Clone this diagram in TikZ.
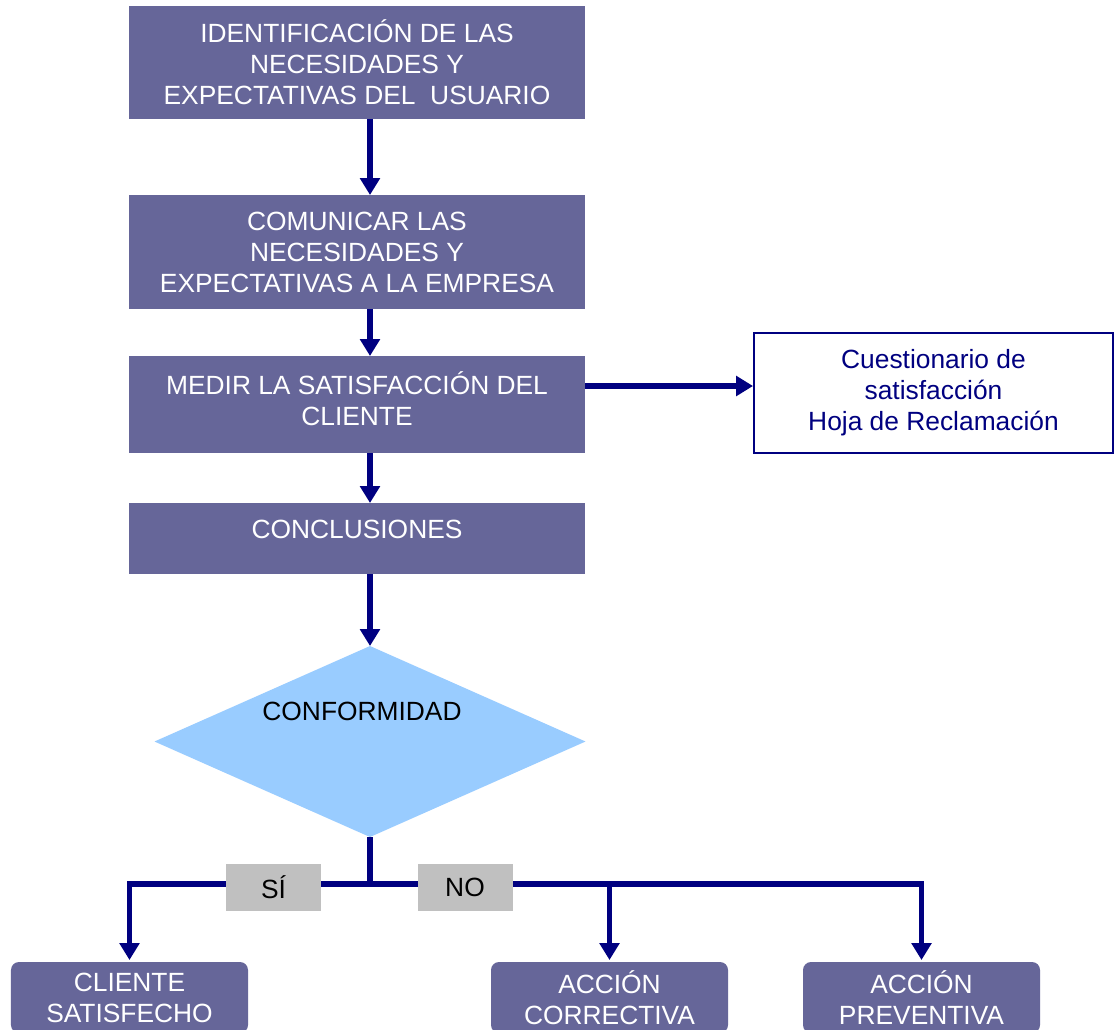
\documentclass[tikz,border=0pt]{standalone}
\usepackage{fontspec}
\setmainfont{Liberation Sans}
\usepackage{tikz}
\usetikzlibrary{shapes.geometric, arrows, arrows.meta, positioning, calc}
\definecolor{boxfill}{HTML}{666699}
\definecolor{linecol}{HTML}{000080}
\definecolor{decfill}{HTML}{99CCFF}
\definecolor{tagfill}{HTML}{C0C0C0}
\tikzstyle{process} = [rectangle, minimum width=9.12cm, text centered, align=center, fill=boxfill, text=white, outer sep=0pt, font=\fontsize{15}{17.6}\selectfont]
\tikzstyle{result} = [rectangle, rounded corners=0.16cm, minimum width=4.74cm, minimum height=1.42cm, align=center, fill=boxfill, text=white, outer sep=0pt, font=\fontsize{15}{17.6}\selectfont]
\tikzstyle{decision} = [diamond, minimum width=8.62cm, minimum height=3.82cm, inner sep=0pt, fill=decfill, outer sep=0pt]
\tikzstyle{doc} = [rectangle, minimum width=7.18cm, minimum height=2.4cm, align=center, draw=linecol, line width=1.1pt, fill=white, text=linecol, font=\fontsize{15}{17.6}\selectfont]
\tikzstyle{tag} = [rectangle, minimum width=1.9cm, minimum height=0.94cm, fill=tagfill, font=\fontsize{15}{17.6}\selectfont]
\tikzstyle{arrow} = [line width=3.2pt, draw=linecol, -{Triangle[length=9.6pt,width=11pt]}]
\tikzstyle{line} = [line width=3.2pt, draw=linecol]

\begin{document}
\begin{tikzpicture}
\clip[use as bounding box] (0,0) rectangle (22.32,-20.58);
\fill[white] (0,0) rectangle (22.32,-20.58);

\node (ident) [process, minimum height=2.26cm] at (7.14,-1.25) {IDENTIFICACIÓN DE LAS\\NECESIDADES Y\\EXPECTATIVAS DEL\ \ USUARIO};
\node (comun) [process, minimum height=2.28cm, below=1.52cm of ident] {COMUNICAR LAS\\NECESIDADES Y\\EXPECTATIVAS A LA EMPRESA};
\node (medir) [process, minimum height=1.94cm, text depth=0.24cm, below=0.94cm of comun] {MEDIR LA SATISFACCIÓN DEL\\CLIENTE};
\node (concl) [process, minimum height=1.42cm, text depth=0.38cm, below=1.0cm of medir] {CONCLUSIONES};
\node (conf) [decision, below=1.44cm of concl, xshift=0.26cm, label={[xshift=-0.16cm, yshift=0.6cm, font=\fontsize{15}{17.6}\selectfont]center:CONFORMIDAD}] {};
\node (cuest) [doc] at (18.67,-7.86) {Cuestionario de\\satisfacción\\Hoja de Reclamación};

\coordinate (split) at ([yshift=-0.94cm]conf.south);
\node (satis) [result] at (2.59,-19.95) {CLIENTE\\SATISFECHO};
\node (correc) [result] at (12.19,-19.95) {ACCIÓN\\CORRECTIVA};
\node (prev) [result] at (18.43,-19.95) {ACCIÓN\\PREVENTIVA};

\draw [arrow] ([xshift=0.26cm]ident.south) -- ([xshift=0.26cm]comun.north);
\draw [arrow] ([xshift=0.26cm]comun.south) -- ([xshift=0.26cm]medir.north);
\draw [arrow] ([xshift=0.26cm]medir.south) -- ([xshift=0.26cm]concl.north);
\draw [arrow] ([xshift=0.26cm]concl.south) -- (conf.north);
\draw [arrow] ([yshift=0.37cm]medir.east) -- ([yshift=0.37cm]medir.east -| cuest.west);

% branches below the decision
\draw [line] (conf.south) -- (split);
\draw [arrow] (split) -| ([yshift=0.04cm]satis.north);
\draw [arrow] (split) -| ([yshift=0.04cm]prev.north);
\draw [arrow] (split -| correc.north) -- ([yshift=0.04cm]correc.north);

\node (si) [tag] at ([xshift=-1.93cm, yshift=-0.07cm]split) {SÍ};
\node (no) [tag] at ([xshift=1.9cm, yshift=-0.07cm]split) {NO};
\end{tikzpicture}
\end{document}
